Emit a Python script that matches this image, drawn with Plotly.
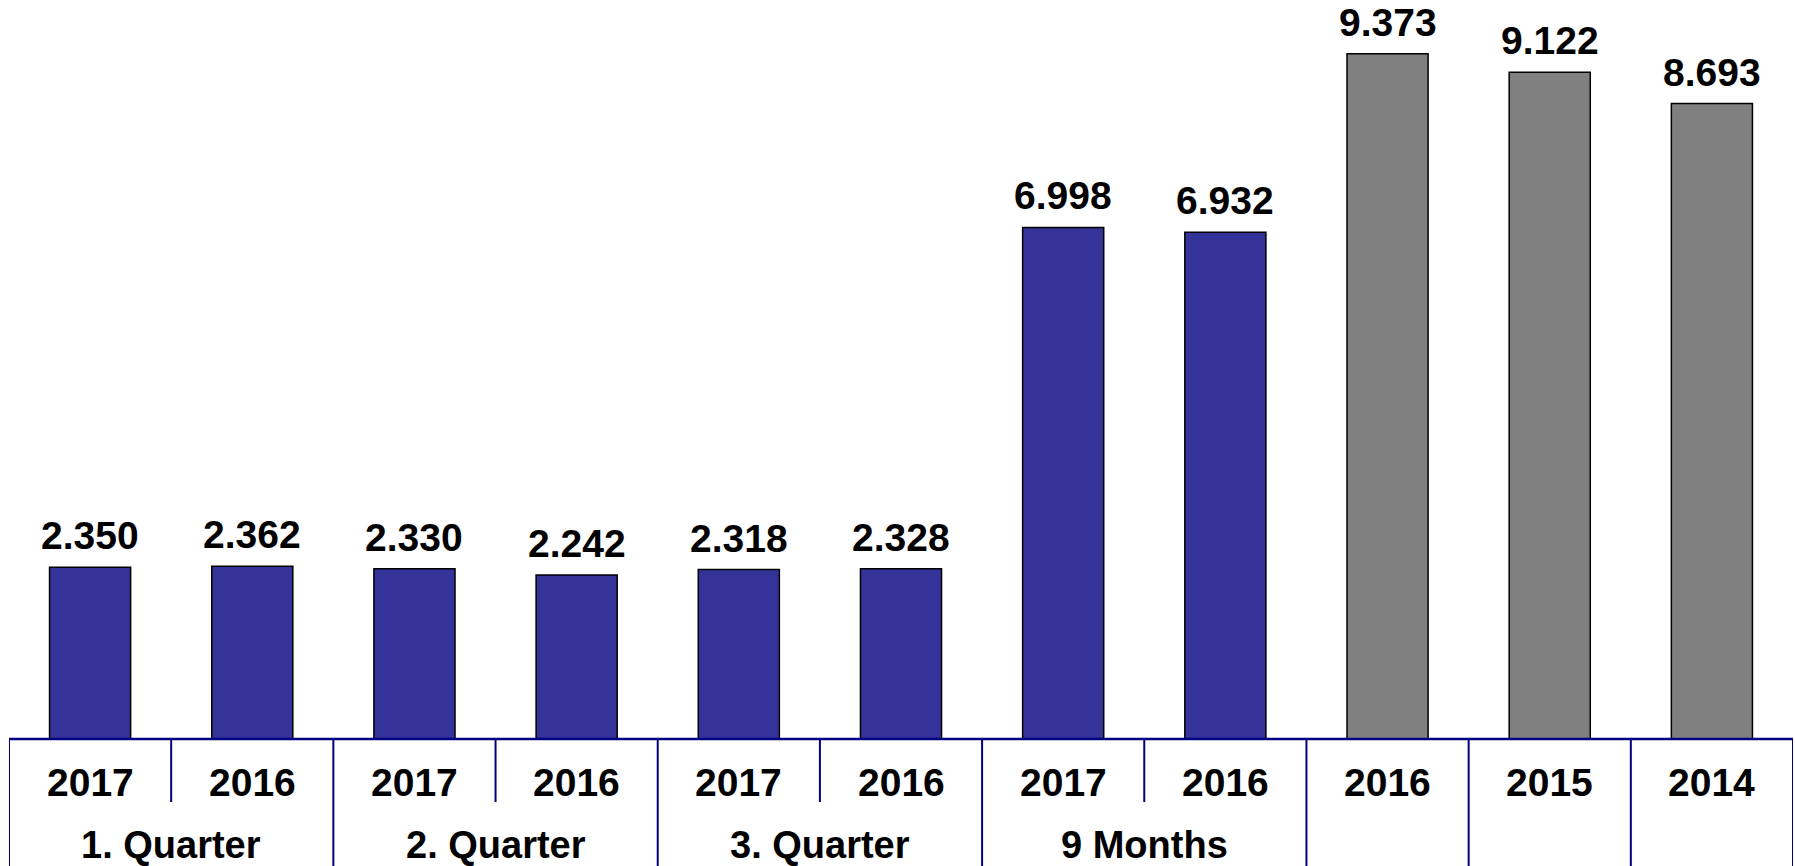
import plotly.graph_objects as go

years = ["2017", "2016", "2017", "2016", "2017", "2016", "2017", "2016", "2016", "2015", "2014"]
groups = ["1. Quarter", "2. Quarter", "3. Quarter", "9 Months"]
values = [2.350, 2.362, 2.330, 2.242, 2.318, 2.328, 6.998, 6.932, 9.373, 9.122, 8.693]
value_labels = ["2.350", "2.362", "2.330", "2.242", "2.318", "2.328", "6.998", "6.932", "9.373", "9.122", "8.693"]
kinds = ["period"] * 8 + ["year"] * 3

BLUE = "#333399"
GREY = "#808080"
NAVY = "#000080"
FONT = "Liberation Sans, Arial, sans-serif"

x = list(range(len(values)))
colors = [BLUE if k == "period" else GREY for k in kinds]

fig = go.Figure()
fig.add_trace(go.Bar(
    x=x, y=values, width=0.5,
    marker=dict(color=colors, line=dict(color="black", width=1.5)),
    hoverinfo="skip",
))

# value labels above bars
for xi, v, lab in zip(x, values, value_labels):
    fig.add_annotation(x=xi, y=v, text=f"<b>{lab}</b>", showarrow=False,
                       yanchor="bottom", yshift=8,
                       font=dict(family=FONT, size=39, color="black"))

BOTTOM = -0.172
HALF = -0.0853
YEAR_Y = -0.0582
GROUP_Y = -0.1435

shapes = []
# axis line
shapes.append(dict(type="line", xref="x", yref="paper", x0=-0.5, x1=len(x) - 0.5,
                   y0=0, y1=0, line=dict(color=NAVY, width=2.5)))
# separators
for i in range(len(x) + 1):
    xb = i - 0.5
    if i < 8 and i % 2 == 1:
        y0 = HALF
    else:
        y0 = BOTTOM
    shapes.append(dict(type="line", xref="x", yref="paper", x0=xb, x1=xb,
                       y0=0, y1=y0, line=dict(color=NAVY, width=2)))

# year labels
for xi, yr in zip(x, years):
    fig.add_annotation(x=xi, y=YEAR_Y, xref="x", yref="paper", text=f"<b>{yr}</b>",
                       showarrow=False, yanchor="middle",
                       font=dict(family=FONT, size=39, color="black"))
# group labels
for gi, g in enumerate(groups):
    fig.add_annotation(x=2 * gi + 0.5, y=GROUP_Y, xref="x", yref="paper", text=f"<b>{g}</b>",
                       showarrow=False, yanchor="middle",
                       font=dict(family=FONT, size=38, color="black"))

fig.update_layout(
    width=1795, height=866,
    margin=dict(l=9, r=2, t=0, b=127),
    paper_bgcolor="white", plot_bgcolor="white",
    showlegend=False,
    shapes=shapes,
    xaxis=dict(range=[-0.5, len(x) - 0.5], showticklabels=False, showgrid=False,
               zeroline=False, showline=False, ticks=""),
    yaxis=dict(range=[0, 10.11], visible=False, showgrid=False, zeroline=False),
    bargap=0.5,
)

fig.write_html("out.html", config={"displayModeBar": False},
               post_script="document.body.style.margin='0';document.body.style.overflow='hidden';")
